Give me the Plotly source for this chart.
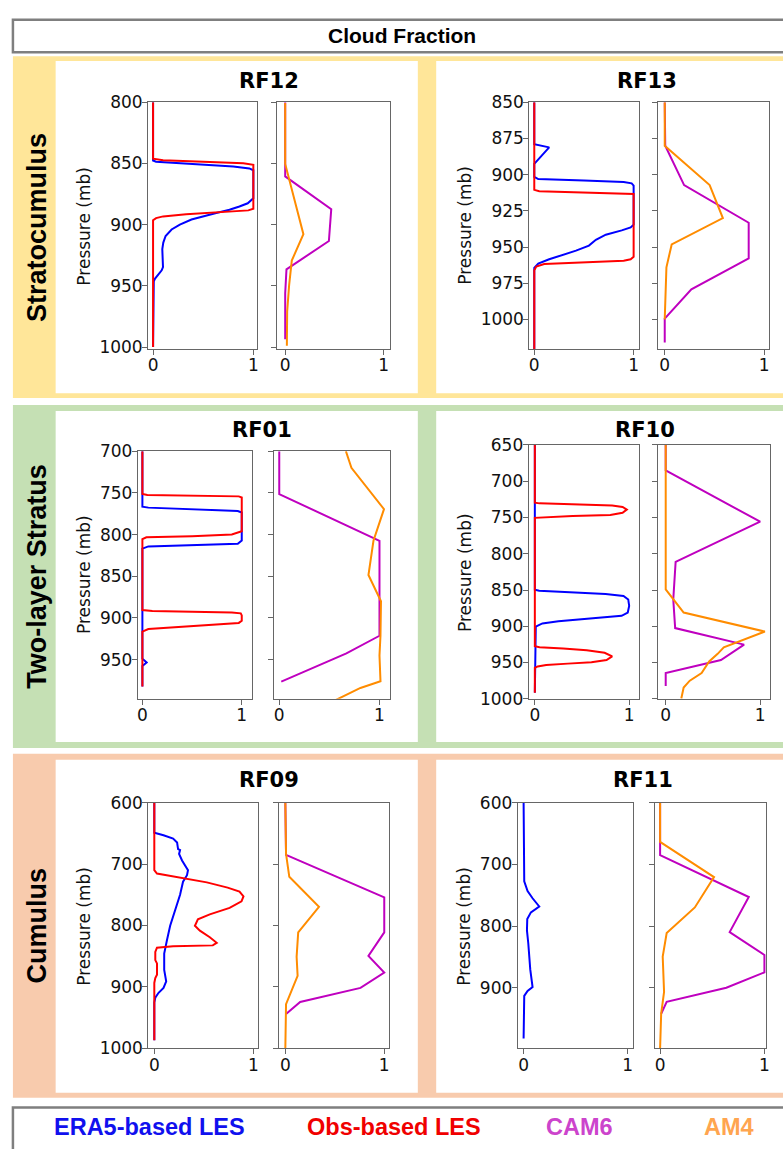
import plotly.graph_objects as go

W, H = 783, 1149

# ---------------- data (pressure in mb, cloud fraction 0-1) ----------------
RF12_ERA5_P = [800, 847.5, 848.5, 850.5, 852.5, 854, 855.5, 878.4, 882.5, 885.1, 887.8, 890.5, 893.2, 895.8, 899.9, 903.9, 909.2, 914.6, 919.9, 930.7, 934.7, 937.3, 941.4, 944, 946.2, 1000]
RF12_ERA5_CF = [0, 0, 0.03, 0.4, 0.8, 0.96, 1.0, 1.0, 0.944, 0.861, 0.762, 0.63, 0.498, 0.383, 0.267, 0.185, 0.125, 0.102, 0.092, 0.092, 0.099, 0.086, 0.043, 0.02, 0.007, 0]
RF12_OBS_P = [800, 846, 847.3, 848.5, 849.7, 851, 887, 888.3, 889.9, 891.5, 893.2, 894.6, 896.4, 1000]
RF12_OBS_CF = [0, 0, 0.1, 0.5, 0.9, 1.0, 1.0, 0.95, 0.63, 0.33, 0.1, 0.03, 0, 0]
RF12_CAM6_P = [800, 860.5, 887.3, 913.3, 936.5, 956, 993.6]
RF12_CAM6_CF = [0, 0, 0.468, 0.444, 0.013, 0.0, 0.0]
RF12_AM4_P = [800.5, 850.3, 907.8, 929.3, 949.4, 970.8, 998.9]
RF12_AM4_CF = [0, 0, 0.185, 0.067, 0.04, 0.02, 0.017]

RF13_ERA5_P = [850, 878.9, 881.1, 892.5, 901.5, 903, 904, 905, 906, 907.5, 934.5, 936.5, 938.5, 941.5, 945, 949, 952.5, 955, 958.5, 961.5, 964.5, 1020.5]
RF13_ERA5_CF = [0, 0, 0.15, 0, 0, 0.04, 0.5, 0.9, 0.98, 1.0, 1.0, 0.97, 0.88, 0.72, 0.62, 0.55, 0.42, 0.3, 0.15, 0.04, 0, 0]
RF13_OBS_P = [850, 910.5, 911.5, 912.3, 913.3, 956.8, 958.5, 959.5, 960.7, 961.8, 963.5, 966, 1020.5]
RF13_OBS_CF = [0, 0, 0.05, 0.5, 1, 1, 0.97, 0.9, 0.55, 0.1, 0.02, 0, 0]
RF13_CAM6_P = [850, 880, 907.2, 933.2, 957.8, 979.3, 999.5, 1016]
RF13_CAM6_CF = [0, 0.005, 0.195, 0.845, 0.845, 0.268, 0, 0]
RF13_AM4_P = [850, 880, 907.2, 930, 948.2, 964, 1000]
RF13_AM4_CF = [0, 0, 0.452, 0.585, 0.07, 0.017, 0]

RF01_ERA5_P = [700, 766.5, 767.7, 769.8, 771.7, 773.6, 807.1, 811, 812.6, 814.2, 816.9, 948.8, 953.5, 957.5, 982.3]
RF01_ERA5_CF = [0, 0, 0.06, 0.5, 0.96, 1, 1, 0.96, 0.5, 0.06, 0, 0, 0.043, 0, 0]
RF01_OBS_P = [700, 751.2, 752.5, 753.3, 754.2, 755.5, 796, 800, 802, 803.2, 805.5, 890.6, 891.7, 893.5, 894.5, 897, 903.5, 906, 910, 913.4, 916.5, 982.3]
RF01_OBS_CF = [0, 0, 0.05, 0.5, 0.97, 1, 1, 0.9, 0.5, 0.04, 0, 0, 0.1, 0.9, 0.99, 1, 1, 0.97, 0.5, 0.06, 0, 0]
RF01_CAM6_P = [700, 751.5, 807.5, 921.4, 942.5, 961, 976.5]
RF01_CAM6_CF = [0, 0, 1.0, 1.0, 0.67, 0.31, 0.02]
RF01_AM4_P = [700, 720, 769.5, 807.5, 848.5, 880, 921, 945, 976, 984, 1001]
RF01_AM4_CF = [0.665, 0.72, 1.045, 0.94, 0.89, 1.015, 1.01, 1.0, 1.01, 0.81, 0.52]

RF10_ERA5_P = [650, 849.5, 851, 855.4, 858.1, 863, 872, 881, 885.6, 889.2, 893, 896, 900.5, 991.5]
RF10_ERA5_CF = [0, 0, 0.046, 0.75, 0.94, 0.99, 1.0, 0.985, 0.92, 0.57, 0.25, 0.08, 0.01, 0]
RF10_OBS_P = [650, 729.5, 730.5, 731.8, 733.3, 735.5, 739, 743.5, 746.5, 748, 749.2, 750.5, 927.5, 928.8, 930.5, 932.9, 936.5, 941.5, 946.5, 949.5, 951.5, 953.5, 955.4, 957.2, 991.5]
RF10_OBS_CF = [0, 0, 0.05, 0.55, 0.82, 0.93, 0.975, 0.93, 0.8, 0.4, 0.08, 0, 0, 0.05, 0.3, 0.55, 0.74, 0.82, 0.76, 0.6, 0.35, 0.12, 0.03, 0, 0]
RF10_CAM6_P = [650, 685, 755.8, 811.2, 863, 902.5, 925.3, 946.5, 964.5, 982.5]
RF10_CAM6_CF = [0, 0, 1.0, 0.105, 0.08, 0.1, 0.83, 0.585, 0, 0]
RF10_AM4_P = [650, 849, 881, 907.3, 929, 938, 948.5, 964.5, 975, 984.5, 999.5]
RF10_AM4_CF = [0, 0, 0.19, 1.05, 0.615, 0.55, 0.46, 0.38, 0.255, 0.19, 0.165]

RF09_ERA5_P = [600, 648.9, 653.2, 658.5, 664.9, 675.5, 677.1, 683.5, 694.1, 710.1, 718.1, 728.7, 750, 776.6, 800.5, 824.5, 845.7, 872.3, 891, 901.6, 909.6, 917.6, 925.5, 986.7]
RF09_ERA5_CF = [0, 0, 0.093, 0.19, 0.23, 0.24, 0.26, 0.25, 0.28, 0.34, 0.33, 0.29, 0.26, 0.21, 0.16, 0.127, 0.1, 0.1, 0.12, 0.093, 0.043, 0.01, 0, 0]
RF09_OBS_P = [600, 710, 715.4, 723.4, 729.8, 738.3, 744.7, 752.7, 760.6, 771.3, 781.9, 789.9, 800.5, 808.5, 819.1, 828.2, 832.4, 834, 836.2, 843.1, 856.4, 861.7, 880.3, 885.6, 893.6, 986.7]
RF09_OBS_CF = [0, 0, 0.027, 0.29, 0.53, 0.74, 0.86, 0.9, 0.88, 0.76, 0.56, 0.44, 0.41, 0.46, 0.56, 0.63, 0.59, 0.19, 0.027, 0.01, 0.01, 0.027, 0.027, 0.01, 0, 0]
RF09_CAM6_P = [600, 685, 754.3, 811.2, 849.5, 876.6, 901.6, 924.5, 944.1]
RF09_CAM6_CF = [0, 0.007, 1.0, 1.0, 0.84, 1.0, 0.76, 0.15, 0.007]
RF09_AM4_P = [600, 683.5, 720.7, 769.7, 811.2, 851.1, 881.9, 928.2, 1000]
RF09_AM4_CF = [0, 0.007, 0.04, 0.34, 0.13, 0.114, 0.124, 0.007, 0]

RF11_ERA5_P = [600, 715, 727.5, 743.4, 755, 768.3, 777.9, 788.5, 807.1, 828.4, 870.8, 899, 905.4, 913.3, 982.4]
RF11_ERA5_CF = [0, 0, 0.006, 0.038, 0.086, 0.15, 0.07, 0.035, 0.032, 0.045, 0.064, 0.086, 0.038, 0.006, 0]
RF11_CAM6_P = [600, 685, 753, 809.8, 847, 875.1, 900, 922.9, 942.5]
RF11_CAM6_CF = [0, 0, 0.85, 0.667, 1.0, 1.0, 0.635, 0.063, 0.01]
RF11_AM4_P = [600, 663.7, 720.6, 769.9, 811.4, 849.6, 907, 942.5, 998.3]
RF11_AM4_CF = [0, 0, 0.517, 0.333, 0.063, 0.025, 0.038, 0.01, 0]

CASES = ["RF12", "RF13", "RF01", "RF10", "RF09", "RF11"]
ROW_LABELS = ["Stratocumulus", "Two-layer Stratus", "Cumulus"]
SERIES = ["ERA5-based LES", "Obs-based LES", "CAM6", "AM4"]
Y_TICKS = {
    "RF12": [800, 850, 900, 950, 1000],
    "RF13": [850, 875, 900, 925, 950, 975, 1000],
    "RF01": [700, 750, 800, 850, 900, 950],
    "RF10": [650, 700, 750, 800, 850, 900, 950, 1000],
    "RF09": [600, 700, 800, 900, 1000],
    "RF11": [600, 700, 800, 900],
}
X_TICKS = [0, 1]

LES = {
    "RF12": [(RF12_ERA5_CF, RF12_ERA5_P), (RF12_OBS_CF, RF12_OBS_P)],
    "RF13": [(RF13_ERA5_CF, RF13_ERA5_P), (RF13_OBS_CF, RF13_OBS_P)],
    "RF01": [(RF01_ERA5_CF, RF01_ERA5_P), (RF01_OBS_CF, RF01_OBS_P)],
    "RF10": [(RF10_ERA5_CF, RF10_ERA5_P), (RF10_OBS_CF, RF10_OBS_P)],
    "RF09": [(RF09_ERA5_CF, RF09_ERA5_P), (RF09_OBS_CF, RF09_OBS_P)],
    "RF11": [(RF11_ERA5_CF, RF11_ERA5_P), None],
}
GCM = {
    "RF12": [(RF12_CAM6_CF, RF12_CAM6_P), (RF12_AM4_CF, RF12_AM4_P)],
    "RF13": [(RF13_CAM6_CF, RF13_CAM6_P), (RF13_AM4_CF, RF13_AM4_P)],
    "RF01": [(RF01_CAM6_CF, RF01_CAM6_P), (RF01_AM4_CF, RF01_AM4_P)],
    "RF10": [(RF10_CAM6_CF, RF10_CAM6_P), (RF10_AM4_CF, RF10_AM4_P)],
    "RF09": [(RF09_CAM6_CF, RF09_CAM6_P), (RF09_AM4_CF, RF09_AM4_P)],
    "RF11": [(RF11_CAM6_CF, RF11_CAM6_P), (RF11_AM4_CF, RF11_AM4_P)],
}

# ---------------- styles / layout geometry (pixels) ----------------
LINE_COLORS = ["#0000FF", "#FF0000", "#BF00BF", "#FF8C00"]
TEXT_COLORS = ["#1010EE", "#F00000", "#CC44CC", "#FFA54F"]
BAND_COLORS = ["#FFE699", "#C5E0B4", "#F8CBAD"]

GEOM = {
    "RF12": ((148, 258), (278, 391), (94, 345), [-0.05, 1.04], [-0.081, 1.06], [1001.6, 800]),
    "RF13": ((531.7, 641.7), (661.7, 772.7), (94, 345), [-0.05, 1.05], [-0.063, 1.047], [1020.5, 850]),
    "RF01": ((137.7, 252.3), (275, 391), (449, 701), [-0.046, 1.1], [-0.05, 1.1], [997, 700]),
    "RF10": ((531, 641.7), (661, 774), (442.7, 701), [-0.066, 1.1], [-0.084, 1.105], [1000, 650]),
    "RF09": ((148.3, 258.3), (279.5, 390.7), (806.7, 1056.7), [-0.06, 1.043], [-0.067, 1.05], [1000, 600]),
    "RF11": ((520, 636), (658.3, 770), (806.7, 1056.7), [-0.057, 1.05], [-0.048, 1.016], [998.3, 600]),
}
TITLE_POS = {"RF12": (270, 72), "RF13": (650, 72), "RF01": (263, 427), "RF10": (648, 427), "RF09": (270, 783.5), "RF11": (646, 783.5)}
YLAB_POS = {"RF12": (83.5, 219.5), "RF13": (467.5, 219), "RF01": (83.5, 574), "RF10": (466.5, 572.5), "RF09": (84, 932.5), "RF11": (466.5, 932.5)}


def fx(px):
    return px / W


def fy(py):
    return 1 - py / H


fig = go.Figure()
layout = {}
AX_STYLE = dict(showline=True, linecolor="#666666", linewidth=1, mirror=True, ticks="outside",
                ticklen=5, tickcolor="#666666", showgrid=False, zeroline=False, ticklabelstandoff=-4,
                tickfont=dict(family="DejaVu Sans", size=17, color="#111111"))

n = 0
for case in CASES:
    lb, rb, (top, bot), xl, xr, yr = GEOM[case]
    for side, box, xrng, data, cols in (("L", lb, xl, LES[case], LINE_COLORS[:2]),
                                        ("R", rb, xr, GCM[case], LINE_COLORS[2:])):
        n += 1
        xa = "x" if n == 1 else f"x{n}"
        ya = "y" if n == 1 else f"y{n}"
        for d, c in zip(data, cols):
            if d is None:
                continue
            fig.add_trace(go.Scatter(x=d[0], y=d[1], mode="lines", xaxis=xa, yaxis=ya,
                                     line=dict(color=c, width=2), showlegend=False, hoverinfo="skip"))
        layout["xaxis" if n == 1 else f"xaxis{n}"] = dict(
            AX_STYLE, domain=[fx(box[0]), fx(box[1])], range=xrng, anchor=ya,
            tickvals=X_TICKS, ticktext=[str(v) for v in X_TICKS])
        layout["yaxis" if n == 1 else f"yaxis{n}"] = dict(
            AX_STYLE, domain=[fy(bot), fy(top)], range=yr, anchor=xa,
            tickvals=Y_TICKS[case], ticktext=[str(v) for v in Y_TICKS[case]],
            showticklabels=(side == "L"))

shapes = []
shapes.append(dict(type="rect", xref="paper", yref="paper", x0=fx(12), x1=fx(800), y0=fy(43), y1=fy(10),
                   line=dict(color="#7f7f7f", width=2.5), fillcolor="white", layer="below"))
for (t, b), col in zip([(47, 395), (402, 751), (757, 1107)], BAND_COLORS):
    shapes.append(dict(type="rect", xref="paper", yref="paper", x0=fx(12), x1=fx(800), y0=fy(b), y1=fy(t),
                       line=dict(width=0), fillcolor=col, layer="below"))
for (t, b) in [(52, 390), (408, 745), (763, 1102)]:
    for (l, r) in [(55, 419.5), (438, 800)]:
        shapes.append(dict(type="rect", xref="paper", yref="paper", x0=fx(l), x1=fx(r), y0=fy(b), y1=fy(t),
                           line=dict(width=0), fillcolor="white", layer="below"))
shapes.append(dict(type="rect", xref="paper", yref="paper", x0=fx(12), x1=fx(800), y0=fy(1165), y1=fy(1117),
                   line=dict(color="#7f7f7f", width=2.5), fillcolor="white", layer="below"))

ann = []
ann.append(dict(text="<b>Cloud Fraction</b>", x=fx(404), y=fy(26), xref="paper", yref="paper",
                showarrow=False, xanchor="center", yanchor="middle",
                font=dict(family="Liberation Sans", size=21, color="black")))
for lab, yc in zip(ROW_LABELS, [221, 576, 932]):
    ann.append(dict(text=f"<b>{lab}</b>", x=fx(36), y=fy(yc), xref="paper", yref="paper", textangle=-90,
                    showarrow=False, xanchor="center", yanchor="middle",
                    font=dict(family="Liberation Sans", size=27, color="black")))
for case in CASES:
    tx, ty = TITLE_POS[case]
    ann.append(dict(text=f"<b>{case}</b>", x=fx(tx), y=fy(ty), xref="paper", yref="paper",
                    showarrow=False, xanchor="center", yanchor="middle",
                    font=dict(family="DejaVu Sans", size=21, color="black")))
    lx, ly = YLAB_POS[case]
    ann.append(dict(text="Pressure (mb)", x=fx(lx), y=fy(ly), xref="paper", yref="paper", textangle=-90,
                    showarrow=False, xanchor="center", yanchor="middle",
                    font=dict(family="DejaVu Sans", size=17, color="#111111")))
for lab, col, xc in zip(SERIES, TEXT_COLORS, [149, 396, 582, 733]):
    ann.append(dict(text=f"<b>{lab}</b>", x=fx(xc), y=fy(1137), xref="paper", yref="paper",
                    showarrow=False, xanchor="center", yanchor="middle",
                    font=dict(family="Liberation Sans", size=23.5, color=col)))

fig.update_layout(width=W, height=H, margin=dict(l=0, r=0, t=0, b=0), paper_bgcolor="white",
                  plot_bgcolor="rgba(0,0,0,0)", shapes=shapes, annotations=ann, showlegend=False, **layout)
fig.write_html("out.html")
